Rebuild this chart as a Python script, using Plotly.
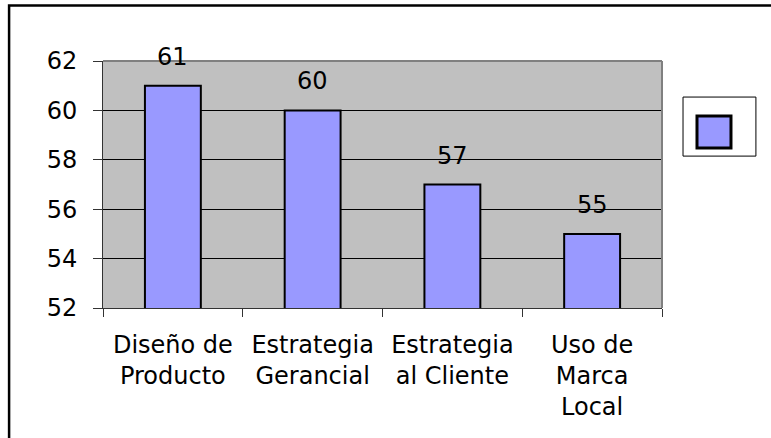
import plotly.graph_objects as go

categories = ["Diseño de<br>Producto", "Estrategia<br>Gerancial", "Estrategia<br>al Cliente", "Uso de<br>Marca<br>Local"]
values = [61, 60, 57, 55]
y_ticks = [52, 54, 56, 58, 60, 62]

FONT = "DejaVu Sans, Arial, sans-serif"
BAR_COLOR = "#9999FF"

fig = go.Figure()
fig.add_trace(go.Bar(
    x=categories, y=values,
    marker=dict(color=BAR_COLOR, line=dict(color="black", width=2)),
    showlegend=False, hoverinfo="skip",
))

for c, v in zip(categories, values):
    fig.add_annotation(x=c, y=v, text=str(v), showarrow=False, yanchor="middle",
                       yshift=29, font=dict(family=FONT, size=24, color="black"))

# plot area border (top / right in gray)
fig.add_shape(type="line", xref="paper", yref="paper", x0=0, x1=1, y0=1, y1=1,
              line=dict(color="#808080", width=2))
fig.add_shape(type="line", xref="paper", yref="paper", x0=1, x1=1, y0=0, y1=1,
              line=dict(color="#808080", width=2))

# legend box with swatch
fig.add_shape(type="rect", xref="paper", yref="paper", x0=1.0376, x1=1.168, y0=0.615, y1=0.854,
              line=dict(color="black", width=1), fillcolor="white", layer="above")
fig.add_shape(type="rect", xref="paper", yref="paper", x0=1.0626, x1=1.1234, y0=0.648, y1=0.777,
              line=dict(color="black", width=3), fillcolor=BAR_COLOR, layer="above")

# outer chart border (extends past the image's right/bottom edges)
fig.add_shape(type="rect", xref="paper", yref="paper", x0=-0.168, x1=1.3, y0=-0.7, y1=1.2247,
              line=dict(color="black", width=2.5), fillcolor="rgba(0,0,0,0)", layer="above")

fig.update_layout(
    width=771, height=438,
    margin=dict(l=103, r=109, t=61, b=130),
    paper_bgcolor="white", plot_bgcolor="#C0C0C0",
    bargap=0.6,
    font=dict(family=FONT, size=24, color="black"),
    xaxis=dict(
        type="category", tickson="boundaries", ticks="outside", ticklen=8, tickcolor="#333333",
        showline=True, linecolor="#333333", linewidth=1, showgrid=False,
        tickfont=dict(family=FONT, size=24, color="black"), ticklabelstandoff=15,
        fixedrange=True,
    ),
    yaxis=dict(
        range=[52, 62], tickvals=y_ticks, ticks="outside", ticklen=9, tickcolor="#333333",
        showline=True, linecolor="#333333", linewidth=1,
        showgrid=True, gridcolor="black", gridwidth=1, zeroline=False,
        tickfont=dict(family=FONT, size=24, color="black"), ticklabelstandoff=11,
        fixedrange=True,
    ),
    showlegend=False,
)

fig.write_html("out.html", config={"displayModeBar": False},
               post_script="document.body.style.margin='0';document.body.style.overflow='hidden';")
